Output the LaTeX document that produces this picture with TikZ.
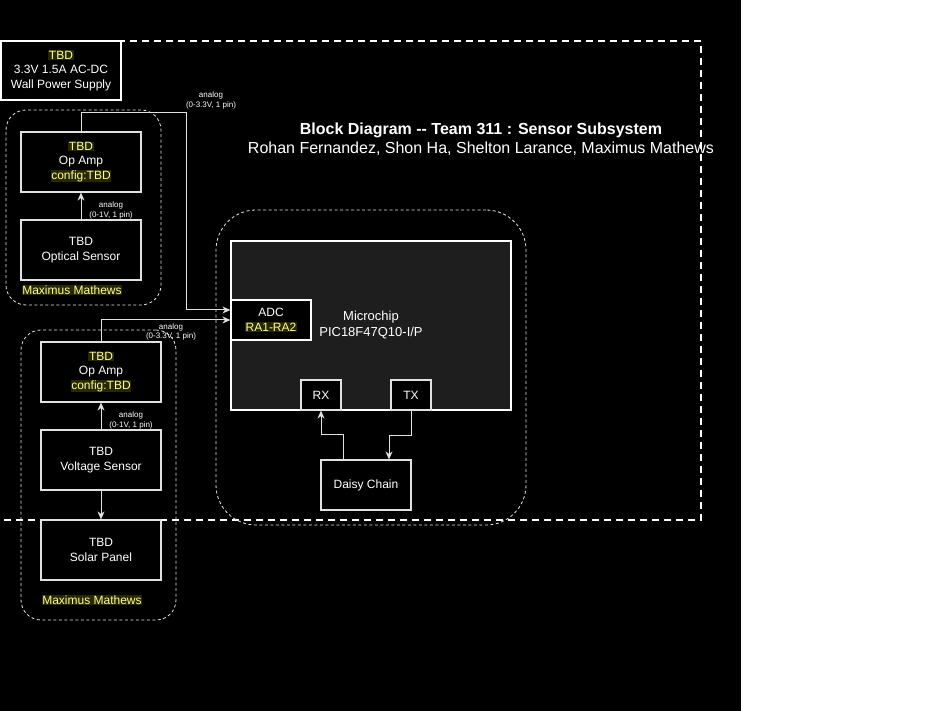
\documentclass[tikz,border=0pt]{standalone}
\usepackage{fontspec}
\setmainfont{Liberation Sans}
\usetikzlibrary{arrows.meta}
\definecolor{hlbg}{RGB}{40,40,0}
\definecolor{hlfg}{RGB}{255,255,140}
\definecolor{chipfill}{RGB}{30,30,30}
\definecolor{ln}{RGB}{225,225,225}
\newcommand{\hlt}[1]{{\setlength{\fboxsep}{0.6pt}\colorbox{hlbg}{\textcolor{hlfg}{#1}}}}
\begin{document}
\begin{tikzpicture}[x=1pt,y=-1pt,
  box/.style={draw=ln, line width=1.2pt, fill=black, text=white, align=center,
    font=\fontsize{12}{14.5}\selectfont, inner sep=0pt, minimum width=120pt, minimum height=60pt},
  grp/.style={draw=white!90!black, line width=0.8pt, dash pattern=on 3pt off 2.5pt, inner sep=0pt},
  conn/.style={draw=ln, line width=1pt},
  arr/.style={conn, -{Stealth[length=8pt,width=7pt,inset=2.5pt]}},
  lbl/.style={text=white, align=center, font=\fontsize{8}{9.5}\selectfont, inner sep=0pt},
  txt/.style={text=white, align=center, font=\fontsize{12}{14.5}\selectfont, inner sep=0pt}]
\useasboundingbox (0,0) rectangle (932,711);
\fill[white] (0,0) rectangle (932,711);
\fill[black] (0,0) rectangle (741,711);
% big dashed frame
\draw[white, line width=2pt, dash pattern=on 7pt off 5pt] (-2,41) -- (701,41) -- (701,520) -- (-2,520);
% groups
\node[grp, rounded corners=20pt, minimum width=155pt, minimum height=195pt] (g1) at (83.5,207.5) {};
\node[grp, rounded corners=20pt, minimum width=155pt, minimum height=290pt] (g2) at (98.5,475) {};
\node[grp, rounded corners=40pt, minimum width=310pt, minimum height=315pt] (g3) at (371,367.5) {};
% power supply
\node[box, draw=white, minimum width=120pt, minimum height=59pt] (ps) at (61,70.5) {\hlt{TBD}\\3.3V 1.5A AC-DC\\Wall Power Supply};
% group 1
\node[box] (opa1) at (81,162) {\hlt{TBD}\\Op Amp\\\hlt{config:TBD}};
\node[box] (opt) at (81,250) {TBD\\Optical Sensor};
\node[txt] (m1) at (72,290) {\hlt{Maximus Mathews}};
% group 2
\node[box] (opa2) at (101,372) {\hlt{TBD}\\Op Amp\\\hlt{config:TBD}};
\node[box] (vs) at (101,460) {TBD\\Voltage Sensor};
\node[box] (sp) at (101,550) {TBD\\Solar Panel};
\node[txt] (m2) at (92,600) {\hlt{Maximus Mathews}};
% microchip
\node[box, draw=white, line width=2pt, fill=chipfill, minimum width=280pt, minimum height=169pt,
  font=\fontsize{13}{16}\selectfont] (chip) at (371,325.5) {Microchip\\PIC18F47Q10-I/P};
\node[box, draw=white, minimum width=80pt, minimum height=40pt] (adc) at (271,320) {ADC\\\hlt{RA1-RA2}};
\node[box, minimum width=40pt, minimum height=30pt] (rx) at (321,395) {RX};
\node[box, minimum width=40pt, minimum height=30pt] (tx) at (411,395) {TX};
\node[box, minimum width=90pt, minimum height=50pt] (dc) at (366,485) {Daisy Chain};
% title
\node[text=white, align=center, font=\fontsize{16}{19}\selectfont, inner sep=0pt] (title) at (481,139.5)
  {\textbf{Block Diagram -{}- Team 311 : Sensor Subsystem}\\Rohan Fernandez, Shon Ha, Shelton Larance, Maximus Mathews};
% connectors
\draw[arr] (opt.north) -- (opa1.south);
\draw[arr] (vs.north) -- (opa2.south);
\draw[arr] (vs.south) -- (sp.north);
\draw[arr] (opa1.north) |- (186,112.5) |- ([yshift=10pt]adc.west);
\draw[arr] (opa2.north) |- (adc.west);
\draw[arr] ([xshift=-23pt]dc.north) -- ++(0,-25) -| (rx.south);
\draw[arr] (tx.south) -- ++(0,25) -| ([xshift=23pt]dc.north);
% labels
\node[lbl] (l1) at (211,100.5) {analog\\(0-3.3V, 1 pin)};
\node[lbl] (l2) at (111,210.5) {analog\\(0-1V, 1 pin)};
\node[lbl] (l3) at (171,332) {analog\\(0-3.3V, 1 pin)};
\node[lbl] (l4) at (131,420.5) {analog\\(0-1V, 1 pin)};
\end{tikzpicture}
\end{document}
